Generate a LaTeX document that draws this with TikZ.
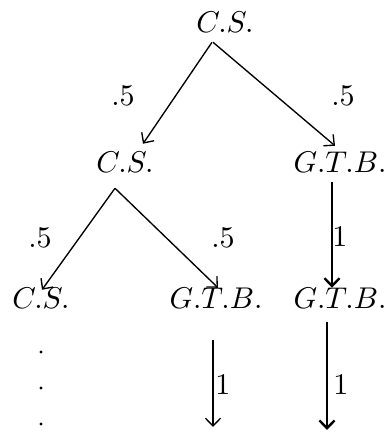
\documentclass[tikz,border=0pt]{standalone}
\usetikzlibrary{arrows.meta,calc}
\begin{document}
\begin{tikzpicture}[x=0.3333pt,y=-0.3333pt,
  st/.style={inner sep=0pt, outer sep=0pt},
  lbl/.style={inner sep=0pt},
  arr/.style={-{Straight Barb[length=2.6pt,width=5pt]}, line width=0.45pt},
  arrb/.style={arr, line width=0.8pt}]
\useasboundingbox (0,0) rectangle (384,437);
% states
\node[st] (r) at (225,22) {$C.S.$};
\node[st] (a) at (125,162) {$C.S.$};
\node[st] (b) at (340,162) {$G.T.B.$};
\node[st] (c) at (41,298) {$C.S.$};
\node[st] (d) at (216,298) {$G.T.B.$};
\node[st] (e) at (340,298) {$G.T.B.$};
\coordinate (dend) at (213,427);
\coordinate (eend) at (327,430);
% connectors
\draw[arr] ($(r.south)+(-13,10)$) -- ($(a.north)+(18,-8)$);
\draw[arr] ($(r.south)+(-12,10)$) -- ($(b.north)+(-5,-6)$);
\draw[arr] ($(a.south)+(-10,16)$) -- ($(c.north)+(1,2)$);
\draw[arr] ($(a.south)+(-10,16)$) -- ($(d.north)+(2,0)$);
\draw[arrb] ($(b.south)+(-8,10)$) -- ($(e.north)+(-8,0)$);
\draw[arr] ($(d.south)+(-3,32)$) -- (dend);
\draw[arrb] ($(e.south)+(-13,14)$) -- (eend);
% labels
\node[lbl] (l1) at (123,96) {$.5$};
\node[lbl] (l2) at (343,96) {$.5$};
\node[lbl] (l3) at (40,238) {$.5$};
\node[lbl] (l4) at (223,238) {$.5$};
\node[lbl] (l5) at (340,237) {$1$};
\node[lbl] (l6) at (223,385) {$1$};
\node[lbl] (l7) at (341,385) {$1$};
% dots
\fill (41,352) circle (1.6);
\fill (41,388) circle (1.6);
\fill (41,424) circle (1.6);
\end{tikzpicture}
\end{document}
